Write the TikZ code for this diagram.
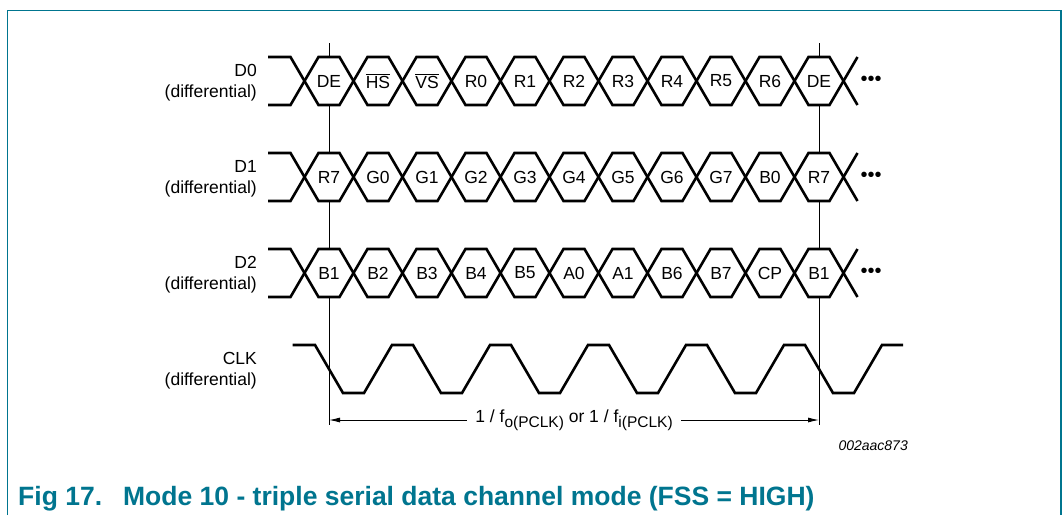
\documentclass[tikz,border=0pt]{standalone}
\usepackage{fontspec}
\setmainfont{Liberation Sans}
\usetikzlibrary{arrows.meta}

\definecolor{figteal}{RGB}{0,117,143}
\newcommand{\ovl}[1]{$\overline{\hbox{#1}}$}

\begin{document}
\begin{tikzpicture}[x=1pt,y=-1pt,
  sig/.style={line width=2.6pt},
  cell/.style={font=\fontsize{17.5}{21}\selectfont, inner sep=0pt},
  sname/.style={font=\fontsize{17.5}{21}\selectfont, align=right, anchor=east, inner sep=0pt},
  marker/.style={line width=1pt},
  dim/.style={line width=0.9pt, {Latex[length=11pt,width=5pt]}-{Latex[length=11pt,width=5pt]}},
  frame/.style={draw=figteal, line width=1.4pt}]
  \fill[white] (0,0) rectangle (1063,515);
  \useasboundingbox (0,0) rectangle (1063,515);
  \draw[frame] (7.5,515) |- (1061,10.5) -- (1061,515);

  % serial data lanes
  \foreach \yc in {81,177,273}
    \foreach \p in {1,-1}
      \draw[sig] (268,\yc-24*\p) -- (290.5,\yc-24*\p)
        \foreach \k [evaluate=\k as \s using {\p*(1-2*mod(\k,2))}] in {0,...,10}
          { -- (318.5+49*\k,\yc+24*\s) -- (339.5+49*\k,\yc+24*\s) }
        -- (857.5,\yc-24*\p);

  \foreach \row/\yc/\cells in {d0/81/{DE,\ovl{HS},\ovl{VS},R0,R1,R2,R3,R4,R5,R6,DE},
                               d1/177/{R7,G0,G1,G2,G3,G4,G5,G6,G7,B0,R7},
                               d2/273/{B1,B2,B3,B4,B5,A0,A1,B6,B7,CP,B1}}
  {
    \foreach \t [count=\k from 0] in \cells
      \node[cell] (\row-\k) at (329+49*\k,\yc) {\t};
    \node[font=\fontsize{20}{20}\selectfont, inner sep=0pt] (\row-more) at (871,\yc) {•••};
  }

  \node[sname] (lbl-d0) at (257,82.5) {D0\\(differential)};
  \node[sname] (lbl-d1) at (257,178.5) {D1\\(differential)};
  \node[sname] (lbl-d2) at (257,274.5) {D2\\(differential)};
  \node[sname] (lbl-clk) at (257,370.5) {CLK\\(differential)};

  % clock
  \draw[sig] (292.7,345) -- (315,345)
    \foreach \j in {0,...,5}
      { -- (343+98*\j,393) -- (364+98*\j,393) -- (392+98*\j,345) -- (413+98*\j,345) };

  % word boundaries
  \foreach \m/\x in {m1/329,m2/819}
  {
    \coordinate (\m-top) at (\x,43);
    \coordinate (\m-bot) at (\x,425);
    \draw[marker] (\m-top) -- (\x,57) (\x,105) -- (\x,153) (\x,201) -- (\x,249) (\x,297) -- (\m-bot);
  }

  \coordinate (a1) at (329,420);
  \coordinate (a2) at (819,420);
  \draw[dim] (a1) -- node[fill=white, inner xsep=8pt, inner ysep=2pt,
      font=\fontsize{17.5}{21}\selectfont] (period)
    {1 / f\raisebox{-0.3em}{\fontsize{15.5}{16}\selectfont o(PCLK)} or 1 / f\raisebox{-0.3em}{\fontsize{15.5}{16}\selectfont i(PCLK)}} (a2);

  \node[anchor=east, inner sep=0pt, font=\itshape\fontsize{14}{16}\selectfont] (code) at (908,446) {002aac873};

  \node[anchor=base west, inner sep=0pt, text=figteal, font=\bfseries\fontsize{26.5}{30}\selectfont] (title) at (18,505)
    {Fig 17.\hspace{21pt}Mode 10 - triple serial data channel mode (FSS = HIGH)};
\end{tikzpicture}
\end{document}
